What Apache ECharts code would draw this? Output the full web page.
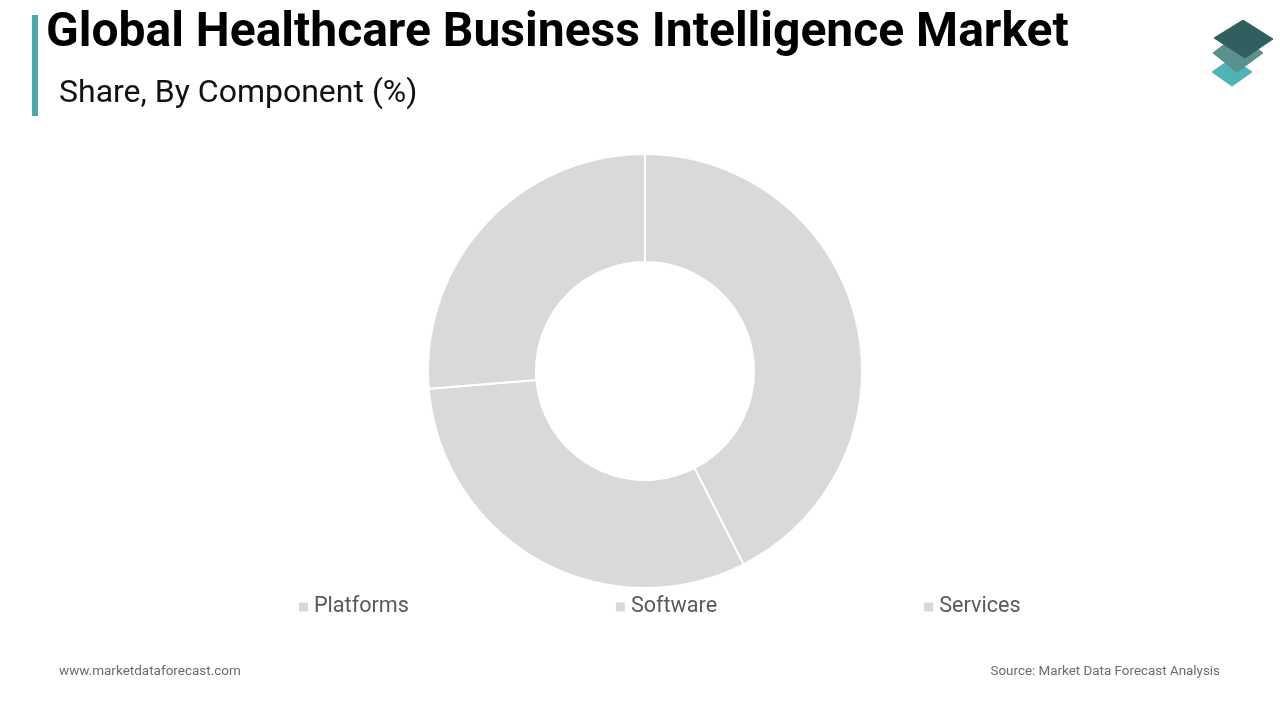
<!DOCTYPE html>
<html><head><meta charset="utf-8">
<style>html,body{margin:0;padding:0;background:#fff}#c{width:1280px;height:720px}</style>
<script src="https://cdn.jsdelivr.net/npm/echarts@6/dist/echarts.min.js"></script>
</head><body><div id="c"></div>
<script>
const categories = ['Platforms','Software','Services'];
const shares = [42.5,31.2,26.3];
const titleText = 'Global Healthcare Business Intelligence Market';
const subtitleText = 'Share, By Component (%)';
const siteText = 'www.marketdataforecast.com';
const sourceText = 'Source: Market Data Forecast Analysis';
const chart = echarts.init(document.getElementById('c'),null,{renderer:'canvas'});
const font='Roboto';
chart.setOption({
  animation:false,
  backgroundColor:'#ffffff',
  textStyle:{fontFamily:font},
  title:[
    {text:titleText,left:46,top:10,textStyle:{fontFamily:font,fontSize:48,fontWeight:'bold',color:'#000'},padding:0},
    {text:subtitleText,left:59,top:78,textStyle:{fontFamily:font,fontSize:32,fontWeight:'normal',color:'#111'},padding:0},
    {text:siteText,left:59,top:665,textStyle:{fontFamily:font,fontSize:13.5,fontWeight:'normal',color:'#6b6b6b'},padding:0},
    {text:sourceText,right:60,top:665,textStyle:{fontFamily:font,fontSize:13.4,fontWeight:'normal',color:'#6b6b6b'},padding:0}
  ],
  legend:{
    data:categories,left:297,top:596,padding:0,itemWidth:11,itemHeight:11,itemGap:205,icon:'rect',
    selectedMode:false,
    textStyle:{fontFamily:font,fontSize:21.6,color:'#595959',padding:[0,0,0,0]}
  },
  color:['#d9d9d9','#d9d9d9','#d9d9d9'],
  series:[{
    type:'pie',center:[645,371],radius:[109,217],startAngle:90,clockwise:true,
    label:{show:false},labelLine:{show:false},silent:true,
    itemStyle:{borderColor:'#fff',borderWidth:2},
    data:categories.map((n,i)=>({name:n,value:shares[i]}))
  }],
  graphic:[
    {type:'rect',shape:{x:32,y:15,width:6,height:101},style:{fill:'#4aa9a9'}},
    {type:'polygon',shape:{points:[[1232,58],[1252,72],[1232,86],[1212,72]]},style:{fill:'#4fb3b3',stroke:'#4fb3b3',lineWidth:1,lineJoin:'round'}},
    {type:'polygon',shape:{points:[[1238,34],[1263,53],[1237,72],[1213,53]]},style:{fill:'#5a908e',stroke:'#5a908e',lineWidth:1,lineJoin:'round'}},
    {type:'polygon',shape:{points:[[1243,20],[1273,39],[1245,58],[1214,38]]},style:{fill:'#2f5f5e',stroke:'#2f5f5e',lineWidth:1,lineJoin:'round'}}
  ]
});
</script></body></html>
